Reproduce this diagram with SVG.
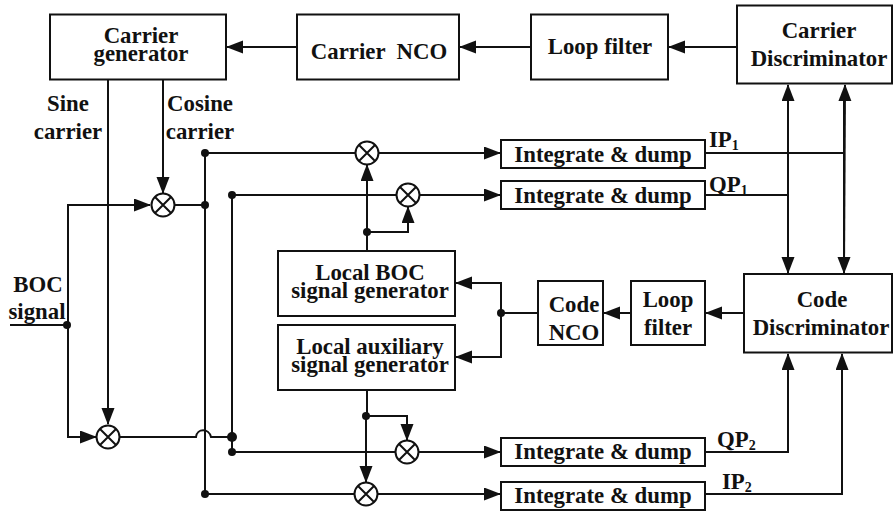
<svg xmlns="http://www.w3.org/2000/svg" width="893" height="514" viewBox="0 0 893 514">
<style>
.b{fill:#fff;stroke:#111;stroke-width:2}
.t{font-family:"Liberation Serif","Times New Roman",serif;font-weight:bold;font-size:22.800px;fill:#111;text-anchor:middle}
.l{font-family:"Liberation Serif","Times New Roman",serif;font-weight:bold;font-size:22.800px;fill:#111}
.s{font-size:14px}
.c{fill:none;stroke:#111;stroke-width:2}
.m{fill:#fff;stroke:#111;stroke-width:2}
</style>
<defs>
<marker id="a" markerUnits="userSpaceOnUse" markerWidth="18" markerHeight="14" refX="16" refY="6.5" orient="auto"><path d="M0 0L17 6.5L0 13Z" fill="#111"/></marker>
<g id="mx"><circle r="11.5" class="m"/><path d="M-8 -8L8 8M-8 8L8 -8" class="c"/></g>
</defs>
<rect width="893" height="514" fill="#fff"/>
<g id="connectors">
<path class="c" marker-end="url(#a)" d="M297 47H227"/>
<path class="c" marker-end="url(#a)" d="M531 47H460"/>
<path class="c" marker-end="url(#a)" d="M737 47H669"/>
<path class="c" marker-end="url(#a)" d="M163 80V193"/>
<path class="c" marker-end="url(#a)" d="M108 80V424"/>
<path class="c" marker-end="url(#a)" d="M68 360V205H150"/>
<path class="c" d="M10 325H68V437"/>
<path class="c" marker-end="url(#a)" d="M67 437H96"/>
<path class="c" d="M175 205H205M205 153V494"/>
<path class="c" d="M232 195V437"/>
<path class="c" d="M120 437H196C197 428 209 428 211 437H232V452"/>
<path class="c" d="M205 153H355"/>
<path class="c" d="M232 195H396"/>
<path class="c" d="M232 452H395"/>
<path class="c" d="M205 494H354"/>
<path class="c" marker-end="url(#a)" d="M379 153H500"/>
<path class="c" marker-end="url(#a)" d="M420 195H500"/>
<path class="c" marker-end="url(#a)" d="M419 452H500"/>
<path class="c" marker-end="url(#a)" d="M378 494H500"/>
<path class="c" marker-end="url(#a)" d="M367 251V165"/>
<path class="c" marker-end="url(#a)" d="M367 232H408V207"/>
<path class="c" d="M367 390V416"/>
<path class="c" marker-end="url(#a)" d="M366 416V482"/>
<path class="c" marker-end="url(#a)" d="M366 416H407V440"/>
<path class="c" d="M538 313H501"/>
<path class="c" marker-end="url(#a)" d="M501 313V283H456"/>
<path class="c" marker-end="url(#a)" d="M501 313V357H456"/>
<path class="c" marker-end="url(#a)" d="M631 313H604"/>
<path class="c" marker-end="url(#a)" d="M744 313H706"/>
<path class="c" marker-end="url(#a)" d="M788 272V85"/>
<path class="c" marker-end="url(#a)" d="M788 100V273"/>
<path class="c" marker-end="url(#a)" d="M844 272L845 85"/>
<path class="c" marker-end="url(#a)" d="M844 100V273"/>
<path class="c" d="M705 153H844M705 195H788"/>
<path class="c" marker-end="url(#a)" d="M705 452H788V354"/>
<path class="c" marker-end="url(#a)" d="M705 494H842V354"/>
<g fill="#111">
<circle cx="205" cy="153" r="4"/><circle cx="205" cy="205" r="4"/><circle cx="232" cy="195" r="4"/><circle cx="367" cy="232" r="4"/>
<circle cx="67" cy="325" r="4"/><circle cx="232" cy="437" r="5"/><circle cx="232" cy="452" r="4"/><circle cx="205" cy="494" r="4"/>
<circle cx="366" cy="416" r="4"/><circle cx="501" cy="313" r="4"/>
</g>
</g>
<g id="carrier-generator"><rect class="b" x="50" y="14.500" width="176" height="65"/><text class="t"><tspan x="141" y="43">Carrier</tspan><tspan x="141" y="61">generator</tspan></text></g>
<g id="carrier-nco"><rect class="b" x="297" y="14.500" width="162" height="65"/><text class="t" x="379" y="59" xml:space="preserve">Carrier  NCO</text></g>
<g id="loop-filter-1"><rect class="b" x="531" y="14.500" width="137" height="65"/><text class="t" x="600" y="54">Loop filter</text></g>
<g id="carrier-discriminator"><rect class="b" x="737" y="5.500" width="155" height="78"/><text class="t"><tspan x="819" y="38">Carrier</tspan><tspan x="819" y="66">Discriminator</tspan></text></g>
<g id="integrate-1"><rect class="b" x="501" y="140" width="204" height="28"/><text class="t" x="603" y="162">Integrate &amp; dump</text></g>
<g id="integrate-2"><rect class="b" x="501" y="181" width="204" height="28"/><text class="t" x="603" y="203">Integrate &amp; dump</text></g>
<g id="integrate-3"><rect class="b" x="501" y="438" width="204" height="28"/><text class="t" x="603" y="459">Integrate &amp; dump</text></g>
<g id="integrate-4"><rect class="b" x="501" y="482" width="204" height="28"/><text class="t" x="603" y="503">Integrate &amp; dump</text></g>
<g id="local-boc"><rect class="b" x="278" y="251" width="177" height="65"/><text class="t"><tspan x="370" y="280">Local BOC</tspan><tspan x="370" y="298">signal generator</tspan></text></g>
<g id="local-aux"><rect class="b" x="278" y="325" width="177" height="65"/><text class="t"><tspan x="370" y="354">Local auxiliary</tspan><tspan x="370" y="372">signal generator</tspan></text></g>
<g id="code-nco"><rect class="b" x="538" y="281" width="65" height="64"/><text class="t"><tspan x="574" y="312">Code</tspan><tspan x="574" y="340">NCO</tspan></text></g>
<g id="loop-filter-2"><rect class="b" x="631" y="281" width="74" height="64"/><text class="t"><tspan x="668" y="307">Loop</tspan><tspan x="668" y="335">filter</tspan></text></g>
<g id="code-discriminator"><rect class="b" x="744" y="274" width="148" height="78.500"/><text class="t"><tspan x="822" y="307">Code</tspan><tspan x="821" y="335">Discriminator</tspan></text></g>
<g id="mixers">
<use href="#mx" x="367" y="153"/><use href="#mx" x="408" y="195"/><use href="#mx" x="163" y="205"/><use href="#mx" x="108" y="437"/><use href="#mx" x="407" y="452"/><use href="#mx" x="366" y="494"/>
</g>
<g id="labels">
<text class="t"><tspan x="68" y="111">Sine</tspan><tspan x="68" y="139">carrier</tspan></text>
<text class="t"><tspan x="200" y="111">Cosine</tspan><tspan x="200" y="139">carrier</tspan></text>
<text class="t"><tspan x="38" y="292">BOC</tspan><tspan x="37" y="319">signal</tspan></text>
<text class="l" x="709" y="147">IP<tspan class="s" dy="3">1</tspan></text>
<text class="l" x="709" y="192">QP<tspan class="s" dy="3">1</tspan></text>
<text class="l" x="717" y="447">QP<tspan class="s" dy="3">2</tspan></text>
<text class="l" x="722" y="489">IP<tspan class="s" dy="3">2</tspan></text>
</g>
</svg>
